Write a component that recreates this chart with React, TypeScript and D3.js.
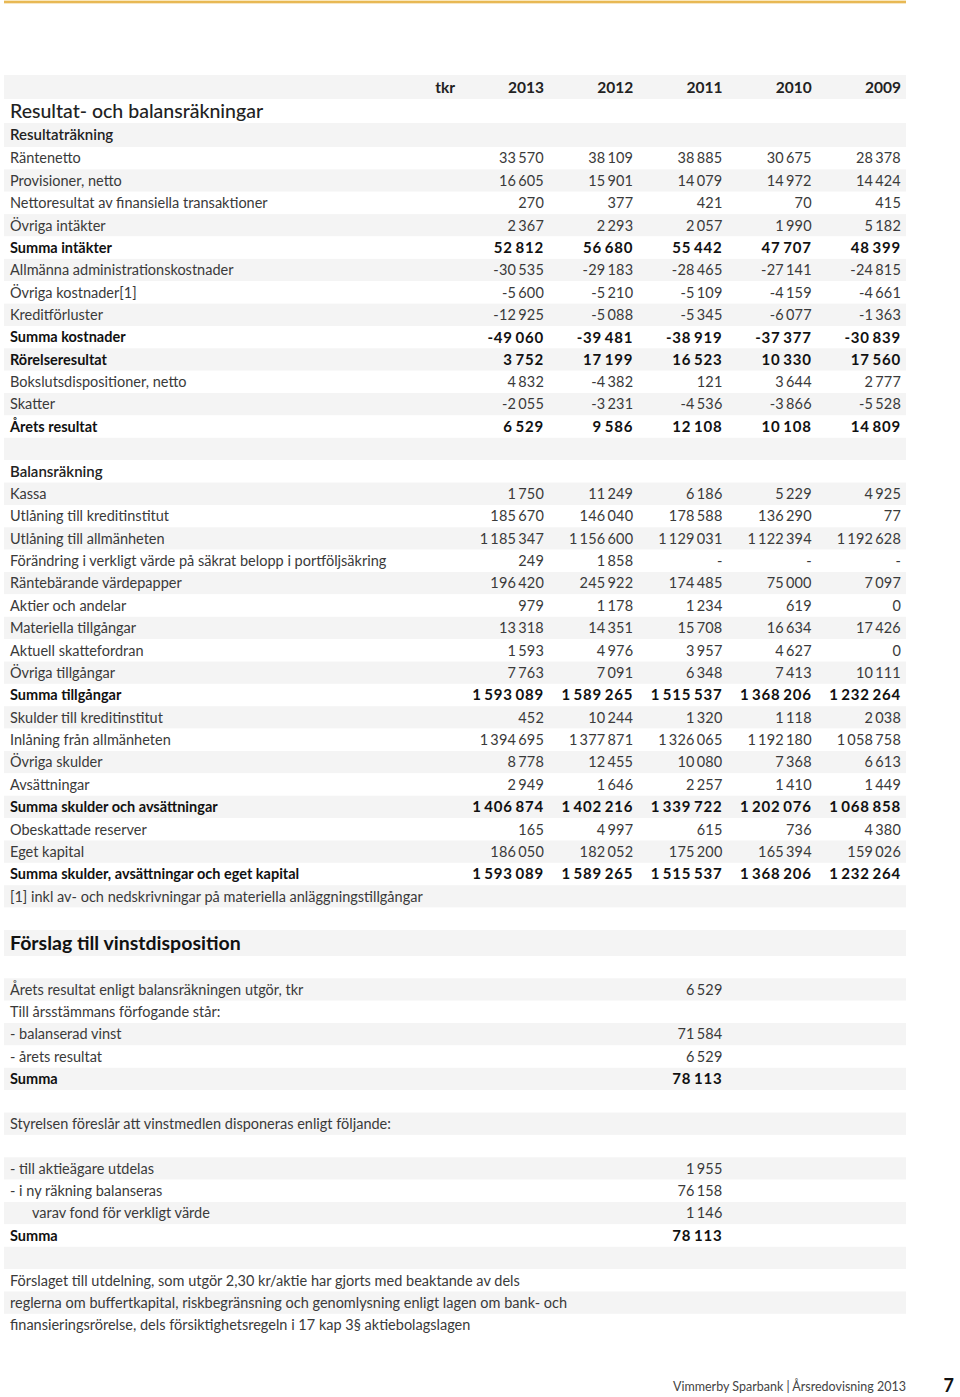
import React from "react";
import * as d3 from "d3";

const years = ["2013", "2012", "2011", "2010", "2009"];

const incomeLabels = [
  "Räntenetto",
  "Provisioner, netto",
  "Nettoresultat av finansiella transaktioner",
  "Övriga intäkter",
  "Summa intäkter",
  "Allmänna administrationskostnader",
  "Övriga kostnader[1]",
  "Kreditförluster",
  "Summa kostnader",
  "Rörelseresultat",
  "Bokslutsdispositioner, netto",
  "Skatter",
  "Årets resultat",
];
const incomeValues = [
  [33570, 38109, 38885, 30675, 28378],
  [16605, 15901, 14079, 14972, 14424],
  [270, 377, 421, 70, 415],
  [2367, 2293, 2057, 1990, 5182],
  [52812, 56680, 55442, 47707, 48399],
  [-30535, -29183, -28465, -27141, -24815],
  [-5600, -5210, -5109, -4159, -4661],
  [-12925, -5088, -5345, -6077, -1363],
  [-49060, -39481, -38919, -37377, -30839],
  [3752, 17199, 16523, 10330, 17560],
  [4832, -4382, 121, 3644, 2777],
  [-2055, -3231, -4536, -3866, -5528],
  [6529, 9586, 12108, 10108, 14809],
];

const balanceLabels = [
  "Kassa",
  "Utlåning till kreditinstitut",
  "Utlåning till allmänheten",
  "Förändring i verkligt värde på säkrat belopp i portföljsäkring",
  "Räntebärande värdepapper",
  "Aktier och andelar",
  "Materiella tillgångar",
  "Aktuell skattefordran",
  "Övriga tillgångar",
  "Summa tillgångar",
  "Skulder till kreditinstitut",
  "Inlåning från allmänheten",
  "Övriga skulder",
  "Avsättningar",
  "Summa skulder och avsättningar",
  "Obeskattade reserver",
  "Eget kapital",
  "Summa skulder, avsättningar och eget kapital",
];
const balanceValues = [
  [1750, 11249, 6186, 5229, 4925],
  [185670, 146040, 178588, 136290, 77],
  [1185347, 1156600, 1129031, 1122394, 1192628],
  [249, 1858, null, null, null],
  [196420, 245922, 174485, 75000, 7097],
  [979, 1178, 1234, 619, 0],
  [13318, 14351, 15708, 16634, 17426],
  [1593, 4976, 3957, 4627, 0],
  [7763, 7091, 6348, 7413, 10111],
  [1593089, 1589265, 1515537, 1368206, 1232264],
  [452, 10244, 1320, 1118, 2038],
  [1394695, 1377871, 1326065, 1192180, 1058758],
  [8778, 12455, 10080, 7368, 6613],
  [2949, 1646, 2257, 1410, 1449],
  [1406874, 1402216, 1339722, 1202076, 1068858],
  [165, 4997, 615, 736, 4380],
  [186050, 182052, 175200, 165394, 159026],
  [1593089, 1589265, 1515537, 1368206, 1232264],
];

const boldLabels = [
  "Summa intäkter",
  "Summa kostnader",
  "Rörelseresultat",
  "Årets resultat",
  "Summa tillgångar",
  "Summa skulder och avsättningar",
  "Summa skulder, avsättningar och eget kapital",
  "Summa",
];

const footnote = "[1] inkl av- och nedskrivningar på materiella anläggningstillgångar";

const dispoLabels1 = [
  "Årets resultat enligt balansräkningen utgör, tkr",
  "Till årsstämmans förfogande står:",
  "- balanserad vinst",
  "- årets resultat",
  "Summa",
];
const dispoValues1 = [6529, null, 71584, 6529, 78113];

const dispoLabels2 = [
  "- till aktieägare utdelas",
  "- i ny räkning balanseras",
  "varav fond för verkligt värde",
  "Summa",
];
const dispoValues2 = [1955, 76158, 1146, 78113];

const noteLines = [
  "Förslaget till utdelning, som utgör 2,30 kr/aktie har gjorts med beaktande av dels",
  "reglerna om buffertkapital, riskbegränsning och genomlysning enligt lagen om bank- och",
  "finansieringsrörelse, dels försiktighetsregeln i 17 kap 3§ aktiebolagslagen",
];

const fmt = d3
  .formatLocale({ decimal: ",", thousands: "\u2009", grouping: [3], currency: ["", ""], minus: "-" })
  .format(",d");

type Row = {
  kind: "head" | "title" | "section" | "normal" | "blank" | "title2" | "note";
  label?: string;
  values?: (number | null)[];
  single?: number | null;
  indent?: boolean;
};

// build row list
const rows: Row[] = [];
rows.push({ kind: "head" });
rows.push({ kind: "title", label: "Resultat- och balansräkningar" });
rows.push({ kind: "section", label: "Resultaträkning" });
incomeLabels.forEach((l, i) => rows.push({ kind: "normal", label: l, values: incomeValues[i] }));
rows.push({ kind: "blank" });
rows.push({ kind: "section", label: "Balansräkning" });
balanceLabels.forEach((l, i) => rows.push({ kind: "normal", label: l, values: balanceValues[i] }));
rows.push({ kind: "note", label: footnote });
rows.push({ kind: "blank" });
rows.push({ kind: "title2", label: "Förslag till vinstdisposition" });
rows.push({ kind: "blank" });
dispoLabels1.forEach((l, i) => rows.push({ kind: "normal", label: l, single: dispoValues1[i] }));
rows.push({ kind: "blank" });
rows.push({ kind: "note", label: "Styrelsen föreslår att vinstmedlen disponeras enligt följande:" });
rows.push({ kind: "blank" });
dispoLabels2.forEach((l, i) =>
  rows.push({ kind: "normal", label: l, single: dispoValues2[i], indent: l.startsWith("varav") })
);
rows.push({ kind: "blank" });
noteLines.forEach((l) => rows.push({ kind: "note", label: l }));

const rowHeight = (r: Row, i: number) => {
  if (r.kind === "head" || r.kind === "title") return 24;
  if (i === 2) return 24;
  if (r.kind === "title2") return 26;
  return 22.37;
};

const App = () => {
  const width = 960;
  const height = 1397;
  const tableLeft = 4;
  const tableRight = 906;
  const top = 75;
  const labelX = 10;
  const font = "Lato, 'Open Sans', sans-serif";

  const heights = rows.map(rowHeight);
  const offsets = [0, ...d3.cumsum(heights)];
  const x = d3.scalePoint<string>().domain(years).range([544, 901]);
  const singleX = x("2011") as number;

  // number text props, bold numbers a bit wider like the original
  const numProps = (bold: boolean) => ({
    textAnchor: "end" as const,
    fontSize: bold ? 15 : 14.5,
    letterSpacing: bold ? 0.8 : 0.2,
    fill: bold ? "#111" : "#3a3a3a",
    fontWeight: bold ? 700 : 400,
  });

  return (
    <svg
      width={width}
      height={height}
      style={{ position: "absolute", left: 0, top: 0, background: "white" }}
      fontFamily={font}
    >
      <defs>
        <linearGradient id="gold" x1="0" y1="0" x2="0" y2="1">
          <stop offset="0" stopColor="#f3cf79" />
          <stop offset="0.5" stopColor="#e3ad3d" />
          <stop offset="1" stopColor="#f1d08a" />
        </linearGradient>
      </defs>
      <rect x={tableLeft} y={0.5} width={tableRight - tableLeft} height={3} fill="url(#gold)" />

      {rows.map((r, i) => {
        const y0 = top + offsets[i];
        const h = heights[i];
        const cy = y0 + h / 2;
        const bold = r.label !== undefined && boldLabels.includes(r.label);
        const fill = i % 2 === 0 ? "#f4f4f4" : "white";
        const textFill = bold ? "#111" : "#3a3a3a";
        const weight = bold ? 700 : 400;
        return (
          <g key={i}>
            <rect x={tableLeft} y={y0} width={tableRight - tableLeft} height={h} fill={fill} />
            {r.kind === "head" && (
              <g fontSize={15.5} fontWeight={700} fill="#222" textAnchor="end">
                <text x={455} y={cy} dy="0.36em">
                  tkr
                </text>
                {years.map((yr) => (
                  <text key={yr} x={x(yr)} y={cy} dy="0.36em">
                    {yr}
                  </text>
                ))}
              </g>
            )}
            {r.kind === "title" && (
              <text x={labelX} y={cy} dy="0.36em" fontSize={19.5} fill="#222" fontWeight={500}>
                {r.label}
              </text>
            )}
            {r.kind === "title2" && (
              <text x={labelX} y={cy} dy="0.36em" fontSize={19.5} fill="#111" fontWeight={700}>
                {r.label}
              </text>
            )}
            {r.kind === "section" && (
              <text x={labelX} y={cy} dy="0.36em" fontSize={15} fill="#222" fontWeight={600}>
                {r.label}
              </text>
            )}
            {(r.kind === "normal" || r.kind === "note") && (
              <text
                x={labelX + (r.indent ? 22 : 0)}
                y={cy}
                dy="0.36em"
                fontSize={14.5}
                fill={textFill}
                fontWeight={weight}
              >
                {r.label}
              </text>
            )}
            {r.values &&
              r.values.map((v, j) => (
                <text key={j} x={x(years[j])} y={cy} dy="0.36em" {...numProps(bold)}>
                  {v === null ? "-" : fmt(v)}
                </text>
              ))}
            {r.single !== undefined && r.single !== null && (
              <text x={singleX} y={cy} dy="0.36em" {...numProps(bold)}>
                {fmt(r.single)}
              </text>
            )}
          </g>
        );
      })}

      <text
        x={906}
        y={1386}
        dy="0.36em"
        textAnchor="end"
        fontSize={14}
        fill="#444"
        textLength={233}
        lengthAdjust="spacingAndGlyphs"
      >
        Vimmerby Sparbank | Årsredovisning 2013
      </text>
      <text x={954} y={1386} dy="0.36em" textAnchor="end" fontSize={18} fontWeight={700} fill="#111">
        7
      </text>
    </svg>
  );
};

export default App;
